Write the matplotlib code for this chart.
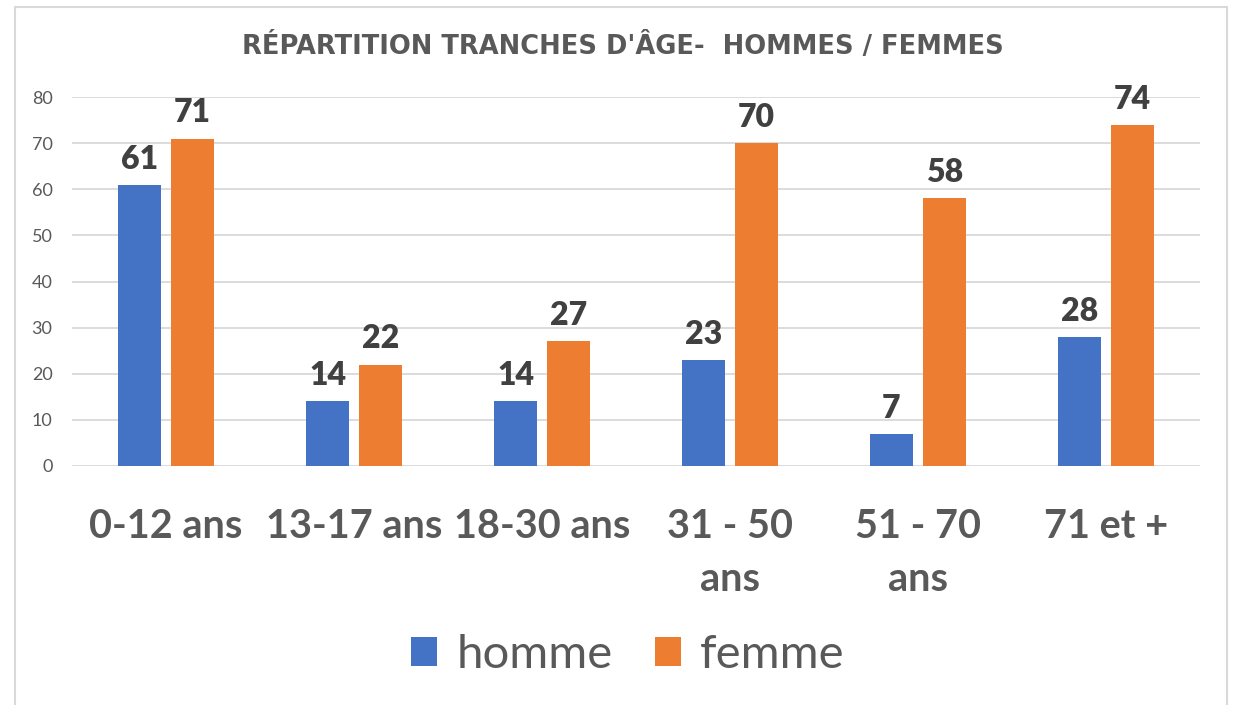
import matplotlib
matplotlib.use("Agg")
import matplotlib.pyplot as plt
from matplotlib.patches import Rectangle
import numpy as np

plt.rcParams['font.family'] = ['Lato', 'DejaVu Sans']

categories = ["0-12 ans", "13-17 ans", "18-30 ans", "31 - 50\nans", "51 - 70\nans", "71 et +"]
homme = [61, 14, 14, 23, 7, 28]
femme = [71, 22, 27, 70, 58, 74]
series_names = ["homme", "femme"]
title = "RÉPARTITION TRANCHES D'ÂGE-  HOMMES / FEMMES"

W, H = 1237, 705
fig = plt.figure(figsize=(W / 100, H / 100), dpi=100)
ax = fig.add_axes([72 / W, 1 - 466 / H, (1200 - 72) / W, (466 - 97) / H])

x = np.arange(len(categories))
bw = 0.224
off = 0.141
blue = "#4472C4"
orange = "#ED7D31"
b1 = ax.bar(x - off, homme, bw, color=blue, label=series_names[0], zorder=3)
b2 = ax.bar(x + off, femme, bw, color=orange, label=series_names[1], zorder=3)

for bars in (b1, b2):
    ax.bar_label(bars, padding=8, fontsize=23, fontweight='heavy', color='#404040')

ax.set_xlim(-0.5, len(categories) - 0.5)
ax.set_ylim(0, 80)
ax.set_yticks(range(0, 81, 10))
ax.grid(axis='y', color='#D9D9D9', linewidth=1.3, zorder=0)
ax.set_axisbelow(True)
for s in ax.spines.values():
    s.set_visible(False)
ax.tick_params(axis='both', length=0)
ax.tick_params(axis='y', labelsize=13, labelcolor='#595959', pad=14)
ax.set_xticks(x)
ax.set_xticklabels(categories, fontsize=28.5, fontweight='bold', color='#595959', linespacing=1.55)
ax.tick_params(axis='x', pad=30)

fig.text(623 / W, 1 - 47 / H, title, ha='center', va='center', fontsize=18.5,
         fontweight='bold', color='#595959', family=['DejaVu Sans'])

fig.legend(handles=[b1, b2], labels=series_names, loc='center',
           bbox_to_anchor=(628 / W, 1 - 655 / H), ncol=2, frameon=False,
           fontsize=34, labelcolor='#595959', handlelength=0.55, handleheight=0.55,
           handletextpad=0.4, columnspacing=0.9)

fig.patches.append(Rectangle((15 / W, -0.01), (1227 - 15) / W, 1 - 7 / H + 0.01,
                             transform=fig.transFigure, fill=False,
                             edgecolor='#D9D9D9', linewidth=1.5))

fig.savefig("out.png", dpi=100, facecolor='white')
